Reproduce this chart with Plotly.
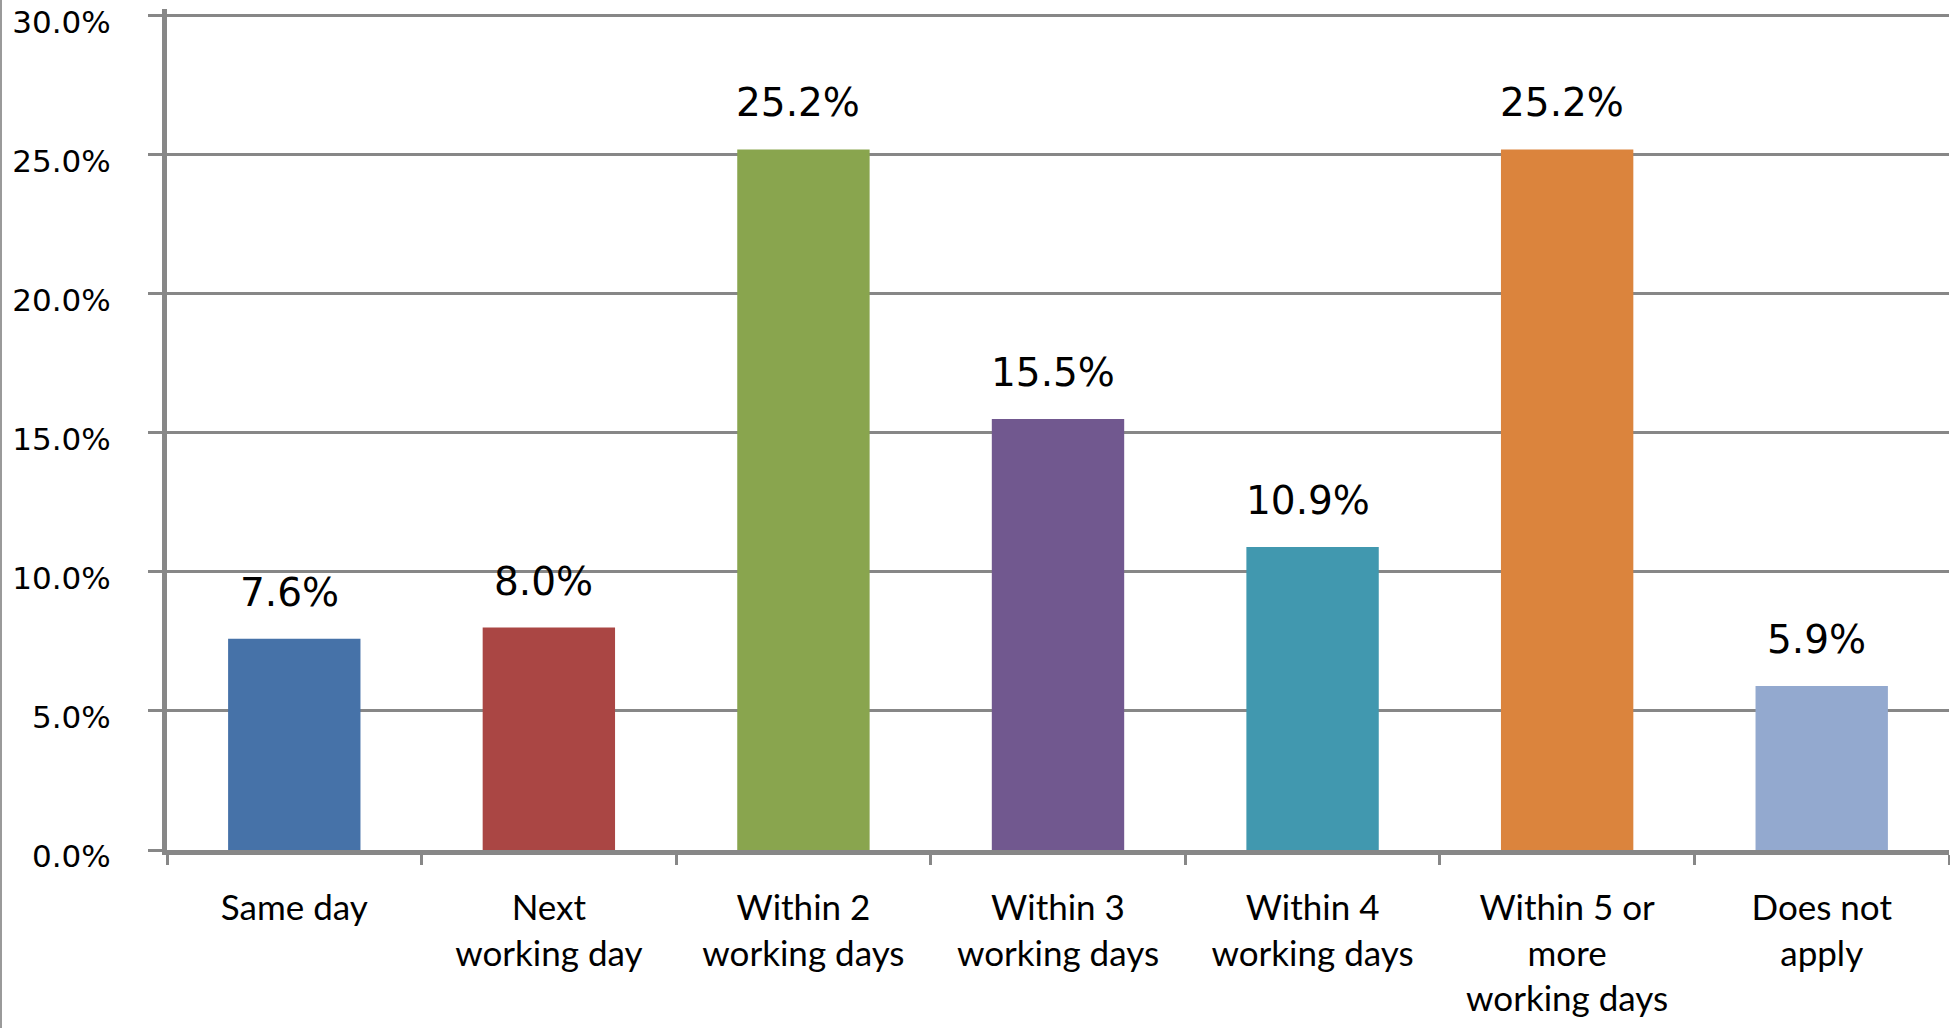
import plotly.graph_objects as go

categories = [
    "Same day",
    "Next<br>working day",
    "Within 2<br>working days",
    "Within 3<br>working days",
    "Within 4<br>working days",
    "Within 5 or<br>more<br>working days",
    "Does not<br>apply",
]
shares = [7.6, 8.0, 25.2, 15.5, 10.9, 25.2, 5.9]
bar_colors = ["#4672A8", "#AA4644", "#89A54E", "#71588F", "#4198AF", "#DB843D", "#93A9CF"]
y_ticks = [0, 5, 10, 15, 20, 25, 30]
y_tick_text = [f"{v:.1f}%" for v in y_ticks]

GRID = "#878787"
NUM_FONT = "DejaVu Sans"
CAT_FONT = "Lato"

fig = go.Figure()
fig.add_bar(
    x=categories,
    y=shares,
    marker=dict(color=bar_colors, line=dict(width=0)),
    showlegend=False,
    hoverinfo="x+y",
)

# value labels sit above each bar, a bit higher than plotly's outside text
for cat, val in zip(categories, shares):
    fig.add_annotation(
        x=cat,
        y=val,
        text=f"{val:.1f}%",
        showarrow=False,
        yanchor="bottom",
        yshift=22,
        xshift=-5,
        font=dict(family=NUM_FONT, size=39, color="#000000"),
    )

# thin frame line on the far left edge of the picture
fig.add_shape(
    type="line",
    xref="paper",
    yref="paper",
    x0=-166 / 1782,
    x1=-166 / 1782,
    y0=-0.25,
    y1=1.05,
    line=dict(color="#9a9a9a", width=2),
)

fig.update_layout(
    width=1950,
    height=1028,
    margin=dict(l=167, r=1, t=9, b=178, autoexpand=False),
    paper_bgcolor="#ffffff",
    plot_bgcolor="#ffffff",
    bargap=0.48,
    font=dict(family=CAT_FONT, color="#000000"),
)
fig.update_yaxes(
    range=[0, 30.25],
    automargin=False,
    tickvals=y_ticks,
    ticktext=y_tick_text,
    tickfont=dict(family=NUM_FONT, size=31, color="#000000"),
    ticklabeloverflow="allow",
    ticklabelshift=6,
    showgrid=True,
    gridcolor=GRID,
    gridwidth=2.5,
    zeroline=False,
    showline=True,
    linecolor=GRID,
    linewidth=5,
    ticks="outside",
    ticklen=14,
    tickwidth=2.5,
    tickcolor=GRID,
    ticklabelstandoff=31,
)
fig.update_xaxes(
    automargin=False,
    tickfont=dict(family=CAT_FONT, size=35, color="#000000"),
    showline=True,
    linecolor=GRID,
    linewidth=5,
    ticks="outside",
    tickson="boundaries",
    ticklen=10,
    tickwidth=3,
    tickcolor=GRID,
    showgrid=False,
    ticklabelstandoff=23,
)

# the default page margin would push the chart 8px off the window
fig.write_html(
    "out.html",
    config={"displayModeBar": False},
    post_script="document.body.style.margin = '0px';",
)
